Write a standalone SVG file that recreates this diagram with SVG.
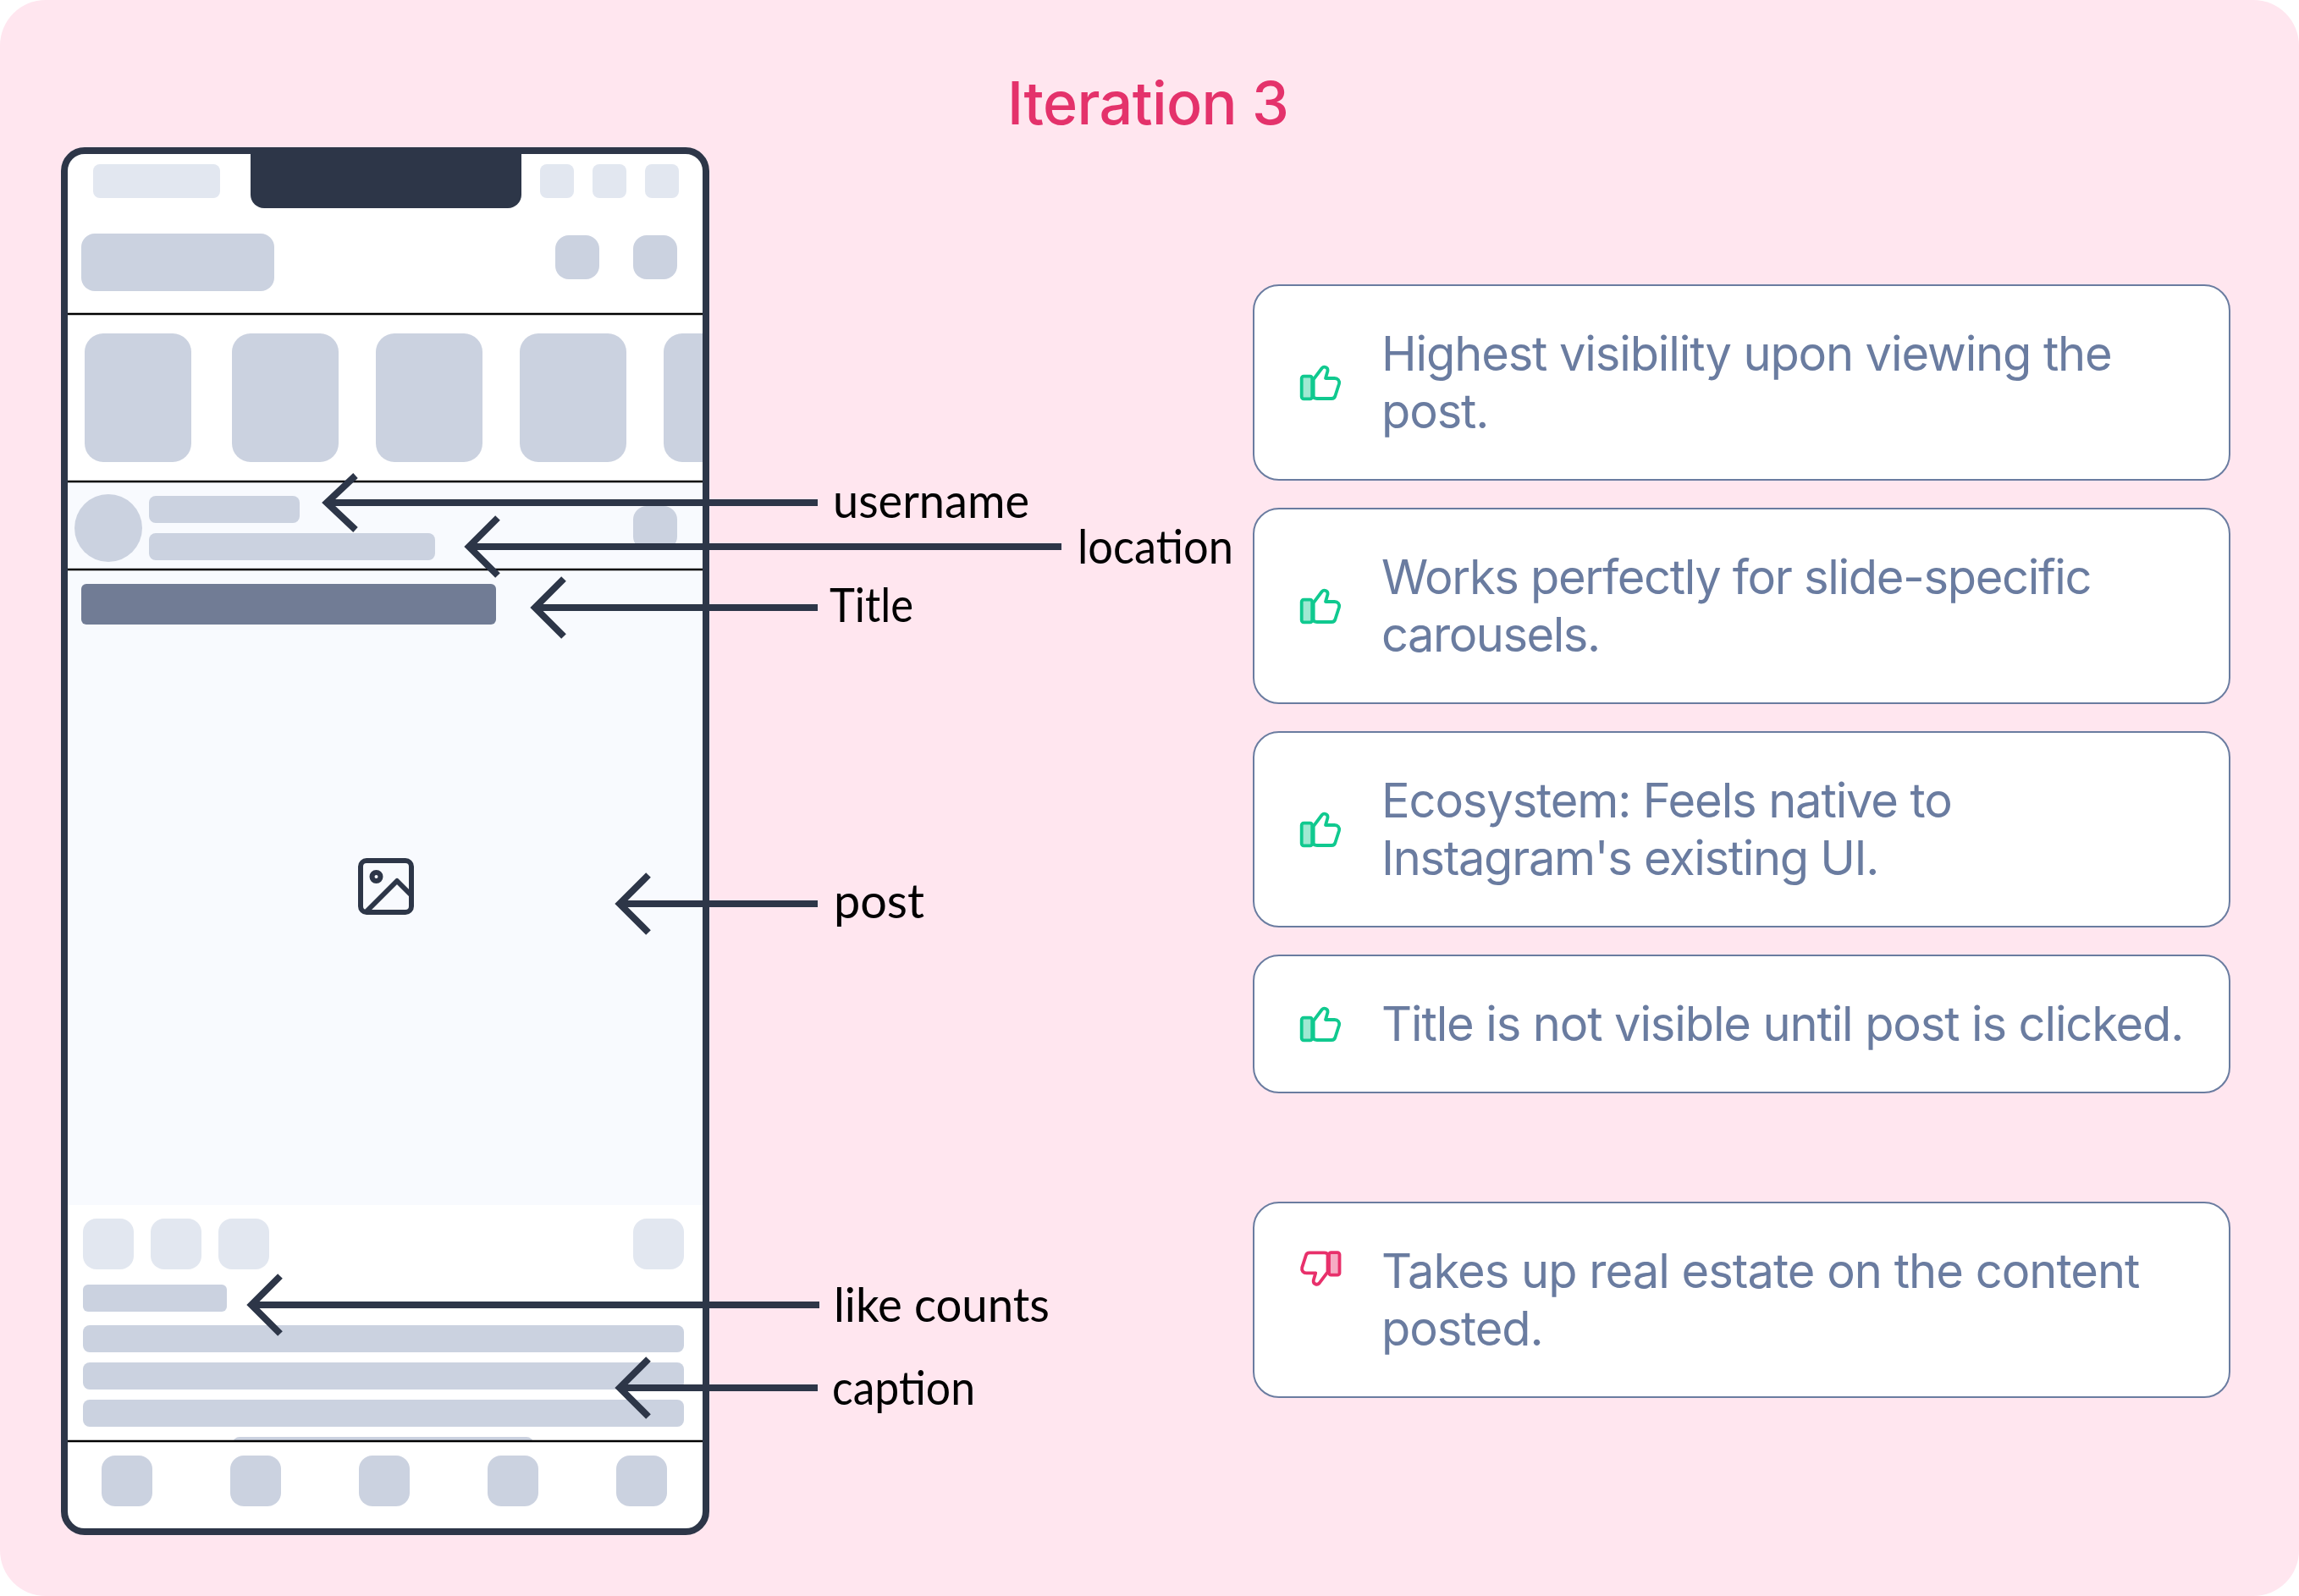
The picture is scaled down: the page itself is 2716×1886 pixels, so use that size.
<svg xmlns="http://www.w3.org/2000/svg" width="2716" height="1886" viewBox="0 0 2716 1886">
<style>
.hd{fill:#000;font-family:"Lato","Noto Sans",sans-serif;font-size:56px}
.tx{fill:#6A7CA0;font-family:"Inter","Noto Sans",sans-serif;font-size:56px;letter-spacing:-1.12px}
.card{fill:#fff;stroke:#6A7CA0;stroke-width:2}
.g1{fill:#CBD2E0}.g2{fill:#E2E7F0}
.sep{stroke:#000;stroke-width:2.5}
.ar{fill:none;stroke:#2D3648;stroke-width:8}
.thumb{color:#10C98F}.down{color:#E8306B}
</style>
<defs>
<clipPath id="ph"><rect x="80" y="182" width="751" height="1624" rx="20"/></clipPath>
<g id="up" fill="none" stroke="currentColor" stroke-width="3.8" stroke-linejoin="round">
<rect x="1537.700" y="444.700" width="12.500" height="26.600" rx="2.500" fill="currentColor" fill-opacity=".4"/>
<path d="M1551.700 448.300L1561.700 435C1564 432.500 1569 433.800 1568.500 438.300L1566 447H1576.700C1580.500 447 1582.800 450 1582 453.500L1577.500 467.500C1577 469.800 1575.500 471 1573 471H1556C1553.500 471 1551.700 470 1551.700 468.300Z"/>
</g>
</defs>
<rect id="bg" width="2716" height="1886" rx="54" fill="#FFE6EF"/>
<text id="title" x="1190" y="147" font-family="Inter, sans-serif" font-size="70" font-weight="500" fill="#E4326B" textLength="333">Iteration 3</text>
<g id="phone">
<rect x="76" y="178" width="758" height="1632" rx="24" fill="#fff"/>
<g clip-path="url(#ph)">
<rect x="80" y="570" width="751" height="854" fill="#F8FAFE"/>
<rect class="g2" x="110" y="194" width="150" height="40" rx="8"/>
<rect class="g2" x="638" y="194" width="40" height="40" rx="8"/>
<rect class="g2" x="700" y="194" width="40" height="40" rx="8"/>
<rect class="g2" x="762" y="194" width="40" height="40" rx="8"/>
<rect class="g1" x="96" y="276" width="228" height="68" rx="16"/>
<rect class="g1" x="656" y="278" width="52" height="52" rx="16"/>
<rect class="g1" x="748" y="278" width="52" height="52" rx="16"/>
<rect class="g1" x="100" y="394" width="126" height="152" rx="22"/>
<rect class="g1" x="274" y="394" width="126" height="152" rx="22"/>
<rect class="g1" x="444" y="394" width="126" height="152" rx="22"/>
<rect class="g1" x="614" y="394" width="126" height="152" rx="22"/>
<rect class="g1" x="784" y="394" width="126" height="152" rx="22"/>
<circle class="g1" cx="128" cy="624" r="40"/>
<rect class="g1" x="176" y="586" width="178" height="32" rx="8"/>
<rect class="g1" x="176" y="630" width="338" height="32" rx="8"/>
<rect class="g1" x="748" y="598" width="52" height="52" rx="16"/>
<rect x="96" y="690" width="490" height="48" rx="6" fill="#717C95"/>
<rect class="g2" x="98" y="1440" width="60" height="60" rx="16"/>
<rect class="g2" x="178" y="1440" width="60" height="60" rx="16"/>
<rect class="g2" x="258" y="1440" width="60" height="60" rx="16"/>
<rect class="g2" x="748" y="1440" width="60" height="60" rx="16"/>
<rect class="g1" x="98" y="1518" width="170" height="32" rx="6"/>
<rect class="g1" x="98" y="1566" width="710" height="32" rx="8"/>
<rect class="g1" x="98" y="1610" width="710" height="32" rx="8"/>
<rect class="g1" x="98" y="1654" width="710" height="32" rx="8"/>
<rect class="g1" x="275" y="1698" width="355" height="32" rx="8"/>
<rect x="80" y="1703" width="751" height="103" fill="#fff"/>
<rect class="g1" x="120" y="1720" width="60" height="60" rx="16"/>
<rect class="g1" x="272" y="1720" width="60" height="60" rx="16"/>
<rect class="g1" x="424" y="1720" width="60" height="60" rx="16"/>
<rect class="g1" x="576" y="1720" width="60" height="60" rx="16"/>
<rect class="g1" x="728" y="1720" width="60" height="60" rx="16"/>
<path class="sep" d="M80 371H831M80 569H831M80 673H831M80 1703H831"/>
</g>
<path d="M296 178H616V230a16 16 0 0 1-16 16H312a16 16 0 0 1-16-16z" fill="#2D3648"/>
<rect x="76" y="178" width="758" height="1632" rx="24" fill="none" stroke="#2D3648" stroke-width="8"/>
<g fill="none" stroke="#2D3648" stroke-width="6">
<rect x="426" y="1017" width="60" height="61" rx="7"/>
<ellipse cx="444.500" cy="1036" rx="5" ry="5"/>
<path d="M432 1078L469 1041L486 1058" stroke-linejoin="round"/>
</g>
</g>
<g id="connectors">
<path class="ar" d="M966 594H386M420 562L386 594L420 626"/>
<path class="ar" d="M1254 646H554M588 612L554 646L588 680"/>
<path class="ar" d="M966 718H632M666 684L632 718L666 752"/>
<path class="ar" d="M966 1068H732M766 1034L732 1068L766 1102"/>
<path class="ar" d="M968 1542H297M331 1508L297 1542L331 1576"/>
<path class="ar" d="M966 1640H732M766 1606L732 1640L766 1674"/>
</g>
<g id="labels">
<text class="hd" x="984" y="612" textLength="232" lengthAdjust="spacingAndGlyphs">username</text>
<text class="hd" x="1273" y="666" textLength="184" lengthAdjust="spacingAndGlyphs">location</text>
<text class="hd" x="980" y="735" textLength="99" lengthAdjust="spacingAndGlyphs">Title</text>
<text class="hd" x="985" y="1085" textLength="107" lengthAdjust="spacingAndGlyphs">post</text>
<text class="hd" x="985" y="1562" textLength="255" lengthAdjust="spacingAndGlyphs">like counts</text>
<text class="hd" x="983" y="1660" textLength="169" lengthAdjust="spacingAndGlyphs">caption</text>
</g>
<g id="card1"><rect class="card" x="1481" y="337" width="1153" height="230" rx="30"/><use class="thumb" href="#up"/><text class="tx" x="1632" y="438">Highest visibility upon viewing the</text><text class="tx" x="1632" y="506">post.</text></g>
<g id="card2"><rect class="card" x="1481" y="601" width="1153" height="230" rx="30"/><use class="thumb" href="#up" y="264"/><text class="tx" x="1632" y="702" style="letter-spacing:-1.32px">Works perfectly for slide-specific</text><text class="tx" x="1632" y="770" style="letter-spacing:-1.47px">carousels.</text></g>
<g id="card3"><rect class="card" x="1481" y="865" width="1153" height="230" rx="30"/><use class="thumb" href="#up" y="528"/><text class="tx" x="1632" y="966">Ecosystem: Feels native to</text><text class="tx" x="1632" y="1034" style="letter-spacing:-1.32px">Instagram's existing UI.</text></g>
<g id="card4"><rect class="card" x="1481" y="1129" width="1153" height="162" rx="30"/><use class="thumb" href="#up" y="758"/><text class="tx" x="1632" y="1230">Title is not visible until post is clicked.</text></g>
<g id="card5"><rect class="card" x="1481" y="1421" width="1153" height="230" rx="30"/><use class="down" href="#up" transform="rotate(180 1560.100 975.700)"/><text class="tx" x="1632" y="1522" style="letter-spacing:-0.97px">Takes up real estate on the content</text><text class="tx" x="1632" y="1590">posted.</text></g>
</svg>
